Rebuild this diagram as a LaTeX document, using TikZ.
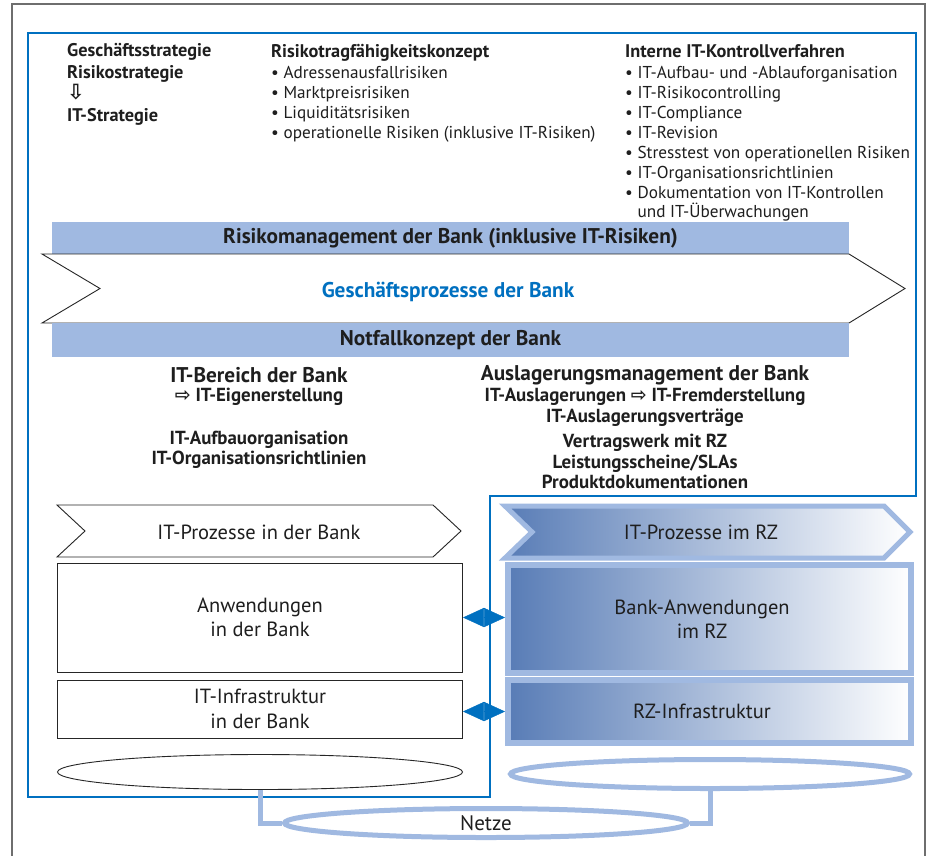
\documentclass[tikz,border=0pt]{standalone}
\usepackage{fontspec}
\setmainfont{PT Sans}
\newfontfamily\symfont{DejaVu Sans}
\usetikzlibrary{shapes.geometric,arrows.meta}
\definecolor{lightblue}{RGB}{160,185,225}
\definecolor{frameblue}{RGB}{0,112,192}
\definecolor{graddark}{RGB}{88,124,182}
\definecolor{framegray}{RGB}{110,110,110}
\definecolor{txt}{RGB}{30,30,30}
\newcommand{\arrR}{{\symfont\bfseries\fontsize{19}{16}\selectfont ⇨}}
\newcommand{\shiftL}{\rule{15pt}{0pt}}
\begin{document}
\begin{tikzpicture}[x=1pt,y=-1pt,
  every node/.style={text=txt},
  toptext/.style={anchor=north west, inner sep=0, align=left, font=\fontsize{17.2}{20}\selectfont},
  tophead/.style={anchor=north west, inner sep=0, align=left, font=\bfseries\fontsize{18.3}{21.7}\selectfont},
  barbox/.style={fill=lightblue, inner sep=0, font=\bfseries\fontsize{21.3}{22}\selectfont},
  midhead/.style={inner sep=0, font=\bfseries\fontsize{21.3}{24}\selectfont},
  midtext/.style={inner sep=0, align=center, font=\bfseries\fontsize{18.9}{20.5}\selectfont},
  chev/.style={draw=black!85, line width=0.9pt, fill=white},
  chevtext/.style={inner sep=0, font=\fontsize{20.5}{22}\selectfont},
  lbox/.style={draw=black!85, line width=1pt, fill=white, align=center, inner sep=0, font=\fontsize{20.5}{24.5}\selectfont},
  rbox/.style={draw=lightblue, line width=6pt, left color=graddark, right color=white, align=center, inner sep=0, font=\fontsize{20.5}{24.5}\selectfont},
  dconn/.style={{Triangle[length=20.8pt,width=19pt]}-{Triangle[length=20.8pt,width=19pt]}, draw=frameblue, fill=frameblue, line width=0.4pt},
  netline/.style={draw=lightblue, line width=5pt},
  netell/.style={ellipse, draw=lightblue, line width=5pt, inner sep=0, fill=white}
]
\useasboundingbox (0,0) rectangle (933,855);
\fill[white] (0,0) rectangle (933,855);
% outer gray frame
\draw[framegray, line width=1.5pt] (12,860) -- (12,4) -- (925,4) -- (925,860);
% blue frame
\draw[frameblue, line width=2.5pt] (28,33) -- (916,33) -- (916,496) -- (490,496) -- (490,797) -- (28,797) -- cycle;

% top texts
\node[tophead] (strat) at (67,43) {Geschäftsstrategie\\Risikostrategie\\{\symfont\bfseries\fontsize{21}{21.7}\selectfont ⇩}\\IT-Strategie};
\node[toptext] (rtk) at (271,44) {{\bfseries\fontsize{18.3}{20}\selectfont Risikotragfähigkeitskonzept}\\[1.5pt]
• Adressenausfallrisiken\\
• Marktpreisrisiken\\
• Liquiditätsrisiken\\
• operationelle Risiken (inklusive IT-Risiken)};
\node[toptext] (ikv) at (625,44) {{\bfseries\fontsize{18.3}{20}\selectfont Interne IT-Kontrollverfahren}\\[1.5pt]
• IT-Aufbau- und -Ablauforganisation\\
• IT-Risikocontrolling\\
• IT-Compliance\\
• IT-Revision\\
• Stresstest von operationellen Risiken\\
• IT-Organisationsrichtlinien\\
• Dokumentation von IT-Kontrollen\\[-1pt]
\phantom{• }und IT-Überwachungen};

% bars and business process chevron
\node[barbox, minimum width=797pt, minimum height=32pt] (risk) at (450.5,238) {Risikomanagement der Bank (inklusive IT-Risiken)};
\draw[chev] (42,254) -- (849,254) -- (905,288.5) -- (849,323) -- (42,323) -- (100,288.5) -- cycle;
\node[inner sep=0, font=\bfseries\fontsize{21.3}{22}\selectfont, text=frameblue] (gp) at (448,292) {Geschäftsprozesse der Bank};
\node[barbox, minimum width=797pt, minimum height=34pt] (notf) at (450.5,340) {Notfallkonzept der Bank};

% IT-Bereich
\node[midhead] (itb) at (259,375) {IT-Bereich der Bank};
\node[midtext] (itbe) at (259,397) {\arrR{} IT-Eigenerstellung};
\node[midtext] (itbo) at (259,450) {IT-Aufbauorganisation\\IT-Organisationsrichtlinien};
% Auslagerung
\node[midhead] (aus) at (645,375) {Auslagerungsmanagement der Bank};
\node[midtext] (ausa) at (645,407.5) {IT-Auslagerungen \arrR{} IT-Fremderstellung\\IT-Auslagerungsverträge};
\node[midtext] (ausv) at (645,461.5) {Vertragswerk mit RZ\\Leistungsscheine/SLAs\\Produktdokumentationen};

% IT processes chevrons
\draw[chev] (57,505) -- (433,505) -- (461,531) -- (433,557) -- (57,557) -- (85,531) -- cycle;
\node[chevtext] (itpb) at (259,532) {IT-Prozesse in der Bank};
\draw[draw=lightblue, line width=5pt, left color=graddark, right color=white] (505,506) -- (884,506) -- (910,532) -- (884,558) -- (505,558) -- (532,532) -- cycle;
\node[chevtext] (itprz) at (701,532) {IT-Prozesse im RZ};

% boxes
\node[lbox, minimum width=405pt, minimum height=109pt] (anw) at (260,617.5) {Anwendungen\\in der Bank};
\node[lbox, minimum width=405pt, minimum height=58pt] (itinf) at (260,709) {IT-Infrastruktur\\in der Bank};
\node[rbox, minimum width=403pt, minimum height=108pt] (bankanw) at (709.5,619) {Bank-Anwendungen\shiftL\\im RZ\shiftL};
\node[rbox, minimum width=403pt, minimum height=63pt] (rzinf) at (709.5,711.5) {RZ-Infrastruktur\shiftL};

% connectors between bank and RZ
\draw[dconn] (anw.east) -- (anw.east -| bankanw.west);
\draw[dconn] (rzinf.west -| itinf.east) -- (rzinf.west);

% networks
\node[ellipse, draw=black!85, line width=0.9pt, minimum width=405pt, minimum height=35pt, inner sep=0] (ellL) at (260,772) {};
\node[netell, minimum width=399pt, minimum height=29pt] (ellR) at (710,774) {};
\node[netell, minimum width=403pt, minimum height=29pt, font=\fontsize{21}{22}\selectfont] (netze) at (486,823) {Netze};
\draw[netline] (ellL.south) |- (netze.west);
\draw[netline] (ellR.south) |- (netze.east);
\end{tikzpicture}
\end{document}
